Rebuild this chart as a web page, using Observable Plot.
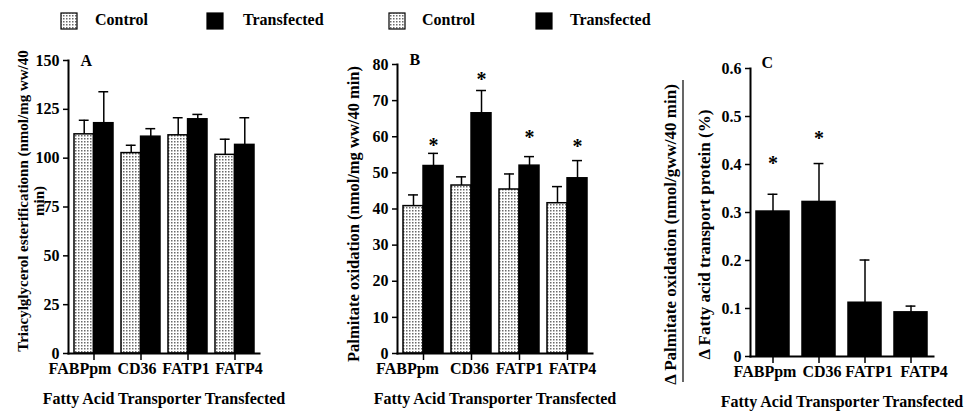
<!DOCTYPE html>
<html><head><meta charset="utf-8">
<script src="https://cdn.jsdelivr.net/npm/d3@7"></script>
<script src="https://cdn.jsdelivr.net/npm/@observablehq/plot@0.6"></script>
<style>
body{margin:0;background:#fff;}
#wrap{position:relative;width:968px;height:413px;overflow:hidden;background:#fff;}
#wrap svg{position:absolute;top:0;}
</style></head><body><div id="wrap"></div>
<script>
// ---------- data ----------
const categories = ["FABPpm", "CD36", "FATP1", "FATP4"];
const legendLabels = ["Control", "Transfected"];
const xTitle = "Fatty Acid Transporter Transfected";

// Panel A: triacylglycerol esterification
const esterControl = [112.2, 102.6, 111.7, 101.7];
const esterControlErr = [7.2, 4.0, 9.0, 8.0];
const esterTransfected = [117.9, 111.0, 119.9, 106.8];
const esterTransfectedErr = [16.1, 4.1, 2.5, 13.9];
const esterTicks = [0, 25, 50, 75, 100, 125, 150];
const esterLabel = "Triacylglycerol esterificationn (nmol/mg ww/40\nmin)";

// Panel B: palmitate oxidation
const oxControl = [40.8, 46.5, 45.4, 41.6];
const oxControlErr = [3.1, 2.4, 4.3, 4.6];
const oxTransfected = [51.9, 66.5, 52.0, 48.5];
const oxTransfectedErr = [3.5, 6.3, 2.5, 4.9];
const oxStars = [58.6, 76.8, 60.9, 58.4];
const oxTicks = [0, 10, 20, 30, 40, 50, 60, 70, 80];
const oxLabel = "Palmitate oxidation (nmol/mg ww/40 min)";

// Panel C: delta oxidation / delta transport protein
const deltaRatio = [0.302, 0.322, 0.112, 0.092];
const deltaRatioErr = [0.036, 0.080, 0.089, 0.013];
const deltaStars = [0.411, 0.463, null, null];
const deltaTicks = [0, 0.1, 0.2, 0.3, 0.4, 0.5, 0.6];
const deltaLabelTop = "\u0394 Palmitate oxidation (nmol/gww/40 min)";
const deltaLabelBottom = "\u0394 Fatty acid transport protein (%)";

// ---------- helpers ----------
const SVGNS = "http://www.w3.org/2000/svg";
const FONT = '"Liberation Serif", "Times New Roman", serif';
function patternDefs(id) {
  return () => {
    const defs = document.createElementNS(SVGNS, "defs");
    defs.innerHTML = `<pattern id="${id}" width="3" height="3" patternUnits="userSpaceOnUse"><rect width="3" height="3" fill="#ffffff"/><rect width="1.5" height="1.5" fill="#6a6a6a"/></pattern>`;
    return defs;
  };
}

function panel(cfg) {
  const {left, width, mL, mR, mT, mB, yDomain, yTicks, yFormat, pi, po, series, stars, letter, letterDx, letterDy, labelShift, extraMarks} = cfg;
  const n = categories.length;
  const step = (width - mL - mR) / (n - pi + 2 * po);
  const bw = step * (1 - pi);
  const marks = [patternDefs(cfg.pid)];
  for (const s of series) {
    const rows = categories.map((c, i) => ({category: c, value: s.values[i], top: s.values[i] + s.errs[i]}));
    const half = s.side === 0 ? 0 : bw / 2;
    const c = bw / 2 + s.side * bw / 4;
    marks.push(Plot.barY(rows, {
      x: "category", y: "value", fill: s.fill, stroke: "black", strokeWidth: 1.5,
      insetLeft: s.side > 0 ? half : 0, insetRight: s.side < 0 ? half : 0
    }));
    marks.push(Plot.ruleX(rows, {x: "category", y1: "value", y2: "top", dx: s.side * bw / 4, stroke: "black", strokeWidth: 1.5}));
    marks.push(Plot.tickY(rows, {x: "category", y: "top", stroke: "black", strokeWidth: 1.5, insetLeft: c - 5, insetRight: bw - c - 5}));
  }
  if (stars) {
    const rows = categories.map((c, i) => ({category: c, y: stars.values[i]})).filter(d => d.y != null);
    marks.push(Plot.text(rows, {x: "category", y: "y", text: () => "*", dx: stars.side * bw / 4, dy: 4, fontSize: 20, fontWeight: "bold"}));
  }
  marks.push(
    Plot.axisY({ticks: yTicks, tickFormat: yFormat, tickSize: 5, tickPadding: 4, label: null, strokeWidth: 1.5, fontSize: 16, fontWeight: "bold"}),
    Plot.axisX({tickSize: 7, tickFormat: () => "", label: null, strokeWidth: 1.5}),
    ...categories.map((c, i) => Plot.axisX({ticks: [c], tickSize: 0, tickPadding: 9, dx: labelShift[i], label: null, fontSize: 16, fontWeight: "bold"})),
    Plot.frame({anchor: "left", strokeWidth: 2}),
    Plot.frame({anchor: "bottom", strokeWidth: 2}),
    Plot.text([letter], {text: d => d, frameAnchor: "top-left", textAnchor: "start", dx: letterDx, dy: letterDy, fontSize: 16, fontWeight: "bold"}),
    Plot.text([xTitle], {text: d => d, frameAnchor: "bottom", textAnchor: "middle", dy: 50, fontSize: 16, fontWeight: "bold"}),
    ...extraMarks
  );
  const svg = Plot.plot({
    width, height: 413,
    marginLeft: mL, marginRight: mR, marginTop: mT, marginBottom: mB,
    x: {domain: categories, paddingInner: pi, paddingOuter: po, axis: null},
    y: {domain: yDomain, axis: null},
    style: {fontFamily: FONT, fontWeight: "bold", color: "black", background: "transparent", overflow: "visible"},
    marks
  });
  svg.style.left = left + "px";
  return svg;
}

const wrap = document.getElementById("wrap");

wrap.appendChild(panel({
  pid: "dotsA", left: 0, width: 325, mL: 68, mR: 66, mT: 60, mB: 60,
  yDomain: [0, 150], yTicks: esterTicks, yFormat: d => String(d), pi: 0.18, po: 0.09,
  labelShift: [-14, -4, -2, 4],
  series: [
    {values: esterControl, errs: esterControlErr, fill: "url(#dotsA)", side: -1},
    {values: esterTransfected, errs: esterTransfectedErr, fill: "black", side: 1}
  ],
  letter: "A", letterDx: 12, letterDy: -6,
  extraMarks: [
    Plot.text([esterLabel], {text: d => d, frameAnchor: "left", textAnchor: "middle", rotate: -90, dx: -38, dy: -6, fontSize: 15, lineHeight: 1.1, fontWeight: "bold"})
  ]
}));

wrap.appendChild(panel({
  pid: "dotsB", left: 325, width: 320, mL: 72, mR: 53, mT: 64, mB: 60,
  yDomain: [0, 80], yTicks: oxTicks, yFormat: d => String(d), pi: 0.17, po: 0.105,
  labelShift: [-16, -2, 0, 5],
  series: [
    {values: oxControl, errs: oxControlErr, fill: "url(#dotsB)", side: -1},
    {values: oxTransfected, errs: oxTransfectedErr, fill: "black", side: 1}
  ],
  stars: {values: oxStars, side: 1},
  letter: "B", letterDx: 12, letterDy: -11,
  extraMarks: [
    Plot.text([oxLabel], {text: d => d, frameAnchor: "left", textAnchor: "middle", rotate: -90, dx: -44, dy: 5, fontSize: 16.5, fontWeight: "bold"})
  ]
}));

wrap.appendChild(panel({
  pid: "dotsC", left: 645, width: 323, mL: 105, mR: 35, mT: 68, mB: 57,
  yDomain: [0, 0.6], yTicks: deltaTicks, yFormat: d => d === 0 ? "0" : d.toFixed(1), pi: 0.29, po: 0.105,
  labelShift: [-8, 3, 4, 13],
  series: [
    {values: deltaRatio, errs: deltaRatioErr, fill: "black", side: 0}
  ],
  stars: {values: deltaStars, side: 0},
  letter: "C", letterDx: 11, letterDy: -12,
  extraMarks: [
    Plot.text([deltaLabelTop], {text: d => d, frameAnchor: "left", textAnchor: "middle", rotate: -90, dx: -80, dy: 22, fontSize: 17, fontWeight: "bold"}),
    Plot.text([deltaLabelBottom], {text: d => d, frameAnchor: "left", textAnchor: "middle", rotate: -90, dx: -46, dy: 22, fontSize: 17, fontWeight: "bold"}),
    () => {
      const l = document.createElementNS(SVGNS, "line");
      l.setAttribute("x1", 38); l.setAttribute("x2", 38);
      l.setAttribute("y1", 80); l.setAttribute("y2", 382);
      l.setAttribute("stroke", "black"); l.setAttribute("stroke-width", 1.2);
      return l;
    }
  ]
}));

// ---------- legends ----------
const leg = d3.select(wrap).append("svg")
  .attr("width", 968).attr("height", 40)
  .style("left", "0px").style("pointer-events", "none")
  .style("font-family", FONT).style("font-weight", "bold").style("font-size", "16px");
leg.append("defs").html(`<pattern id="dotsL" width="3" height="3" patternUnits="userSpaceOnUse"><rect width="3" height="3" fill="#ffffff"/><rect width="1.5" height="1.5" fill="#6a6a6a"/></pattern>`);
const legendSets = [
  {swatches: [61, 207], texts: [95, 243]},
  {swatches: [389, 536], texts: [422, 570]}
];
for (const set of legendSets) {
  legendLabels.forEach((lab, i) => {
    leg.append("rect").attr("x", set.swatches[i]).attr("y", 13).attr("width", 16).attr("height", 16)
      .attr("fill", i === 0 ? "url(#dotsL)" : "black").attr("stroke", "black").attr("stroke-width", 1.2);
    leg.append("text").attr("x", set.texts[i]).attr("y", 25).text(lab);
  });
}
</script></body></html>
